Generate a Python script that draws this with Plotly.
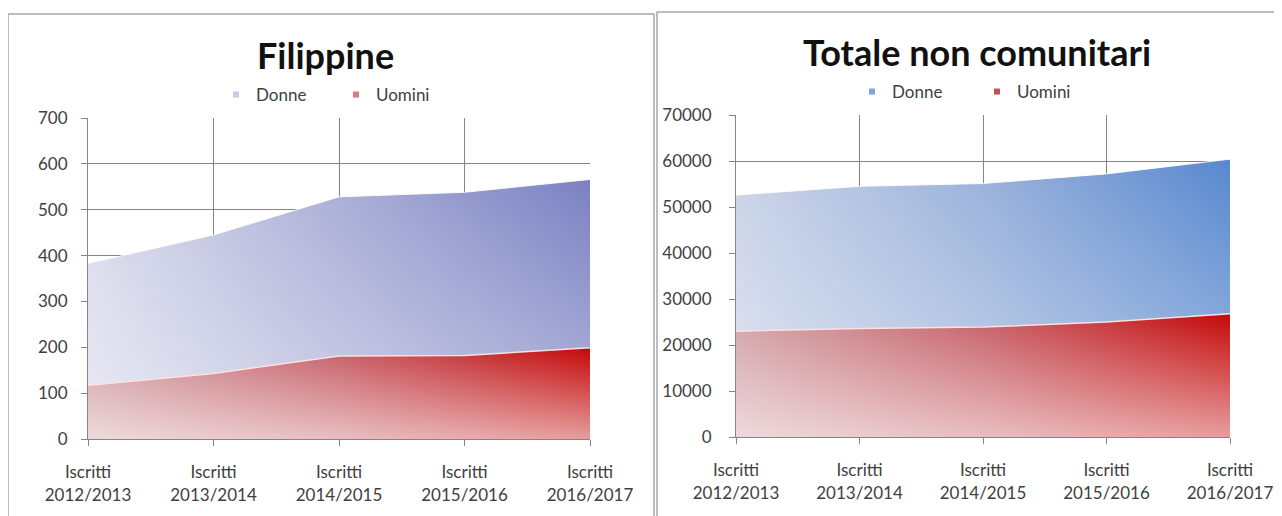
import plotly.graph_objects as go

# ---------------- data ----------------
categories = ["Iscritti<br>2012/2013", "Iscritti<br>2013/2014", "Iscritti<br>2014/2015",
              "Iscritti<br>2015/2016", "Iscritti<br>2016/2017"]

fil_uomini = [117, 143, 181, 182, 199]
fil_donne = [266, 302, 347, 356, 367]

tot_uomini = [23000, 23600, 23900, 25000, 26800]
tot_donne = [29600, 30900, 31200, 32200, 33600]

fil_title = "Filippine"
tot_title = "Totale non comunitari"

FONT = "Lato"
TXT = "#404040"
GRID = "#858585"

fil_total = [u + d for u, d in zip(fil_uomini, fil_donne)]
tot_total = [u + d for u, d in zip(tot_uomini, tot_donne)]

fig = go.Figure()


def add_panel(xa, ya, uomini, total, donne_cs, uomini_cs, leg, donne_mk, uomini_mk):
    fig.add_trace(go.Scatter(
        x=categories, y=total, mode="lines", fill="tozeroy",
        line=dict(color="rgba(255,255,255,0.9)", width=1),
        fillgradient=dict(type="horizontal", colorscale=donne_cs),
        xaxis=xa, yaxis=ya, showlegend=False, hoverinfo="skip"))
    fig.add_trace(go.Scatter(
        x=categories, y=total, mode="lines", fill="tozeroy",
        line=dict(width=0),
        fillgradient=dict(type="vertical", start=0, stop=max(total),
                          colorscale=[[0, "rgba(255,255,255,0.45)"],
                                      [1, "rgba(255,255,255,0)"]]),
        xaxis=xa, yaxis=ya, showlegend=False, hoverinfo="skip"))
    fig.add_trace(go.Scatter(
        x=categories, y=uomini, mode="lines", fill="tozeroy",
        line=dict(color="#fbe0e0", width=1.5),
        fillgradient=dict(type="horizontal", colorscale=uomini_cs),
        xaxis=xa, yaxis=ya, showlegend=False, hoverinfo="skip"))
    fig.add_trace(go.Scatter(
        x=categories, y=uomini, mode="lines", fill="tozeroy",
        line=dict(width=0),
        fillgradient=dict(type="vertical", start=0, stop=max(uomini),
                          colorscale=[[0, "rgba(255,255,255,0.6)"],
                                      [1, "rgba(255,255,255,0)"]]),
        xaxis=xa, yaxis=ya, showlegend=False, hoverinfo="skip"))
    fig.add_trace(go.Scatter(
        x=[None], y=[None], mode="markers", name="Donne",
        marker=dict(symbol="square", size=6, color=donne_mk),
        xaxis=xa, yaxis=ya, legend=leg))
    fig.add_trace(go.Scatter(
        x=[None], y=[None], mode="markers", name="Uomini",
        marker=dict(symbol="square", size=6, color=uomini_mk),
        xaxis=xa, yaxis=ya, legend=leg))


add_panel("x", "y", fil_uomini, fil_total,
          [[0, "#d8daeb"], [0.5, "#a9add6"], [1, "#7a81c2"]],
          [[0, "#d2a2a8"], [0.5, "#c65e66"], [1, "#c40808"]],
          "legend", "#c8cce4", "#e07880")
add_panel("x2", "y2", tot_uomini, tot_total,
          [[0, "#c9d2e7"], [0.5, "#98b0da"], [1, "#5888cf"]],
          [[0, "#d2a2a8"], [0.5, "#c65e66"], [1, "#c40808"]],
          "legend2", "#7ea4d8", "#c05058")

axis_common = dict(showline=True, linecolor=GRID, linewidth=1,
                   showgrid=True, gridcolor=GRID, gridwidth=1,
                   ticks="outside", ticklen=6, tickcolor=GRID,
                   tickfont=dict(family=FONT, size=17, color=TXT),
                   zeroline=False, fixedrange=True, automargin=False)

W, H = 1282, 516
OFF = 8  # page body offset


def px_x(p):
    return (p - OFF) / W


def px_y(p):
    return 1 - (p - OFF) / H


fig.update_layout(
    width=W, height=H,
    margin=dict(l=0, r=0, t=0, b=0, autoexpand=False),
    paper_bgcolor="white", plot_bgcolor="white",
    font=dict(family=FONT, color=TXT),
    xaxis=dict(domain=[px_x(88), px_x(590)], type="category", range=[0, 4],
               anchor="y", ticklabelstandoff=12, **axis_common),
    yaxis=dict(domain=[px_y(439), px_y(118)], range=[0, 700], dtick=100,
               anchor="x", tickformat="d", ticklabelstandoff=10, **axis_common),
    xaxis2=dict(domain=[px_x(736), px_x(1230)], type="category", range=[0, 4],
                anchor="y2", ticklabelstandoff=12, **axis_common),
    yaxis2=dict(domain=[px_y(437), px_y(115)], range=[0, 70000], dtick=10000,
                anchor="x2", tickformat="d", ticklabelstandoff=14, **axis_common),
    legend=dict(orientation="h", x=px_x(216), xanchor="left",
                y=px_y(95), yanchor="middle", itemwidth=30,
                entrywidth=75, entrywidthmode="pixels",
                font=dict(family=FONT, size=17, color=TXT),
                bgcolor="rgba(0,0,0,0)"),
    legend2=dict(orientation="h", x=px_x(852), xanchor="left",
                 y=px_y(92), yanchor="middle", itemwidth=30,
                 entrywidth=80, entrywidthmode="pixels",
                 font=dict(family=FONT, size=17, color=TXT),
                 bgcolor="rgba(0,0,0,0)"),
    annotations=[
        dict(text="<b>" + fil_title + "</b>", x=px_x(325), y=px_y(55),
             xref="paper", yref="paper", showarrow=False,
             xanchor="center", yanchor="middle",
             font=dict(family=FONT, size=36, color="#111111")),
        dict(text="<b>" + tot_title + "</b>", x=px_x(977), y=px_y(52),
             xref="paper", yref="paper", showarrow=False,
             xanchor="center", yanchor="middle",
             font=dict(family=FONT, size=36, color="#111111")),
    ],
    shapes=[
        dict(type="rect", xref="paper", yref="paper",
             x0=px_x(8), x1=px_x(654), y0=-0.2, y1=px_y(14),
             line=dict(color="#a8a8a8", width=1.5)),
        dict(type="rect", xref="paper", yref="paper",
             x0=px_x(657), x1=1.2, y0=-0.2, y1=px_y(12),
             line=dict(color="#a8a8a8", width=1.5)),
    ],
)

fig.write_html("out.html")
